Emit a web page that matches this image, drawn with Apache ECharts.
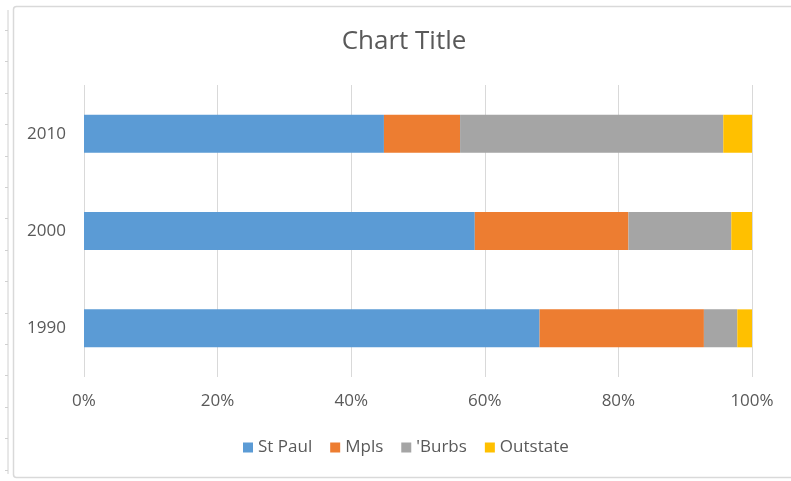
<!DOCTYPE html>
<html>
<head>
<meta charset="utf-8">
<script src="https://cdn.jsdelivr.net/npm/echarts@6/dist/echarts.min.js"></script>
<style>
  html, body { margin: 0; padding: 0; background: #ffffff; }
  #chart { width: 791px; height: 481px; }
</style>
</head>
<body>
<div id="chart"></div>
<script>
// Share of population by area, per census year (percent of total)
const years = ['1990', '2000', '2010'];
const stPaul = [68.2, 58.5, 44.9];
const mpls = [24.6, 23.0, 11.4];
const burbs = [5.0, 15.4, 39.4];
const outstate = [2.2, 3.1, 4.3];
const xTicks = [0, 20, 40, 60, 80, 100];

const seriesDefs = [
  { name: 'St Paul', data: stPaul, color: '#5B9BD5' },
  { name: 'Mpls', data: mpls, color: '#ED7D31' },
  { name: "'Burbs", data: burbs, color: '#A5A5A5' },
  { name: 'Outstate', data: outstate, color: '#FFC000' }
];

const textColor = '#595959';
const fontFamily = '"Open Sans", "Noto Sans", sans-serif';

// Frame around the chart plus the thin ruler strip on the left edge
const decor = [
  {
    type: 'rect',
    shape: { x: 13.5, y: 6.5, width: 790, height: 471, r: 3 },
    style: { fill: 'none', stroke: '#d9d9d9', lineWidth: 1.5 },
    silent: true
  },
  {
    type: 'line',
    shape: { x1: 8, y1: 10, x2: 8, y2: 474 },
    style: { stroke: '#d0d0d0', lineWidth: 1 },
    silent: true
  }
];
for (let k = 0; k < 15; k++) {
  const y = Math.round(30 + k * 31.4) + 0.5;
  decor.push({
    type: 'line',
    shape: { x1: 5, y1: y, x2: 8, y2: y },
    style: { stroke: '#d0d0d0', lineWidth: 1 },
    silent: true
  });
}

const chart = echarts.init(document.getElementById('chart'), null, { renderer: 'canvas' });
chart.setOption({
  backgroundColor: '#ffffff',
  animation: false,
  textStyle: { fontFamily: fontFamily },
  title: {
    text: 'Chart Title',
    left: 404,
    top: 29,
    padding: 0,
    textAlign: 'center',
    textStyle: { color: textColor, fontSize: 26, fontWeight: 'normal', fontFamily: fontFamily }
  },
  legend: {
    bottom: 25,
    left: 243,
    padding: 0,
    icon: 'rect',
    itemWidth: 10,
    itemHeight: 10,
    itemGap: 18,
    textStyle: { color: textColor, fontSize: 17, fontFamily: fontFamily },
    data: seriesDefs.map(s => s.name)
  },
  grid: { left: 84, right: 39, top: 85, bottom: 104, containLabel: false },
  xAxis: {
    type: 'value',
    min: xTicks[0],
    max: xTicks[xTicks.length - 1],
    interval: xTicks[1] - xTicks[0],
    axisLine: { show: false },
    axisTick: { show: false },
    splitLine: { show: true, lineStyle: { color: '#d9d9d9', width: 1 } },
    axisLabel: {
      color: textColor,
      fontSize: 17,
      margin: 16,
      formatter: v => v + '%'
    }
  },
  yAxis: {
    type: 'category',
    data: years,
    axisLine: { show: false },
    axisTick: { show: false },
    splitLine: { show: false },
    axisLabel: { color: textColor, fontSize: 17, margin: 18 }
  },
  series: seriesDefs.map(s => ({
    name: s.name,
    type: 'bar',
    stack: 'total',
    data: s.data,
    barCategoryGap: '61%',
    itemStyle: { color: s.color },
    emphasis: { disabled: true }
  })),
  graphic: decor
});
</script>
</body>
</html>
